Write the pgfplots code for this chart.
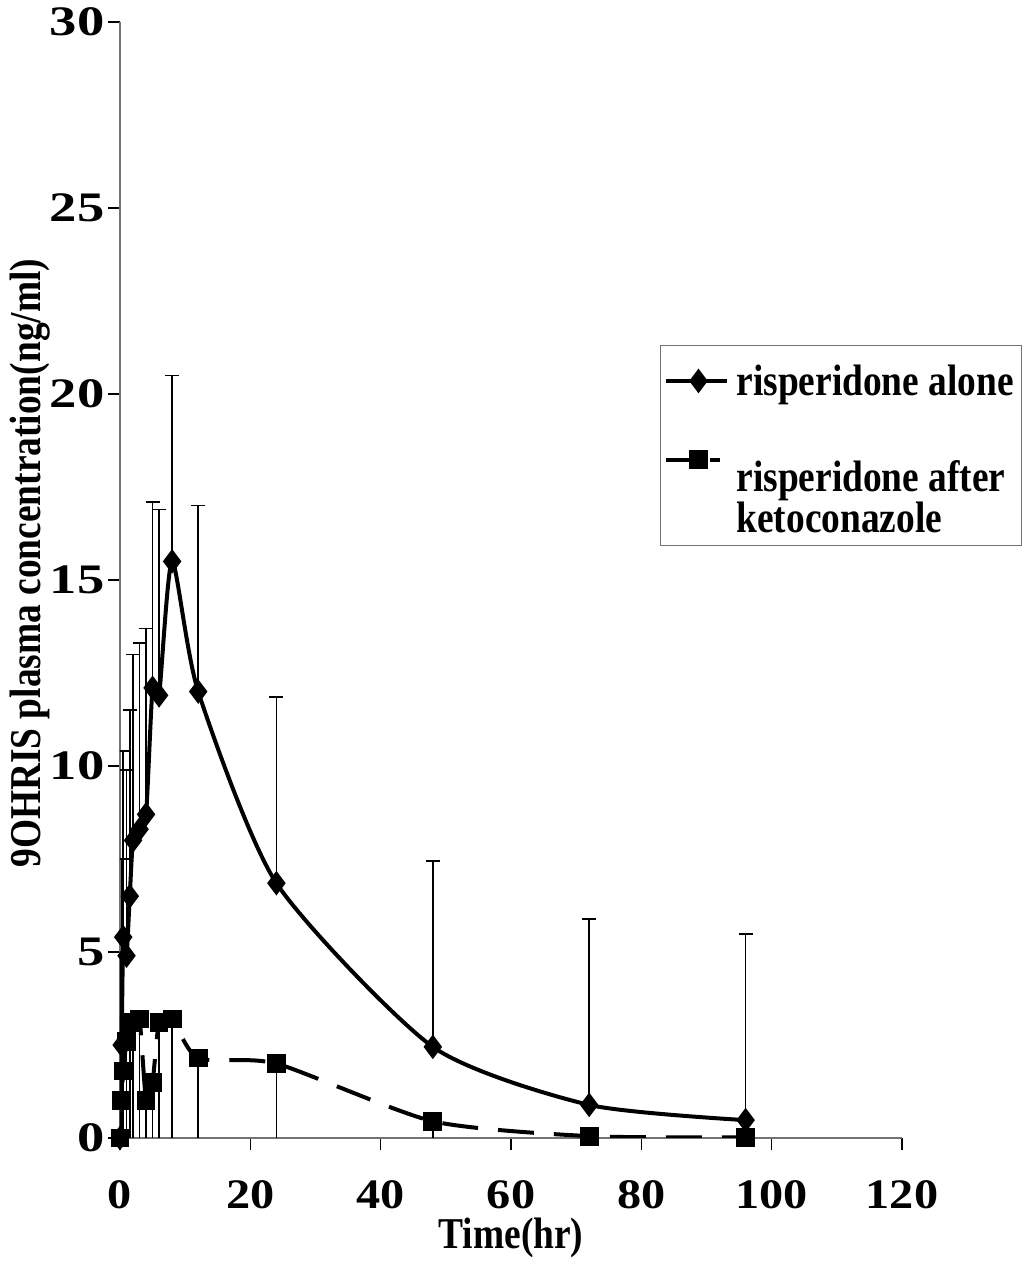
\documentclass[border=0pt]{standalone}
\usepackage{pgfplots}
\pgfplotsset{compat=1.18}
\usepackage{pgfplotstable}
\usepackage{fontspec}
\setmainfont{Liberation Serif}
\newfontfamily\yfont{Liberation Serif}[FakeStretch=1.3]
\newfontfamily\xfont{Liberation Serif}[FakeStretch=1.15]
\newfontfamily\cfont{Liberation Serif}[FakeStretch=0.85]

\pgfplotstableread{
t y
0 0
0.25 2.5
0.5 5.4
1 4.9
1.5 6.5
2 8.0
3 8.3
4 8.7
5 12.1
6 11.9
8 15.5
12 12.0
24 6.85
48 2.45
72 0.89
96 0.48
}\alone

\pgfplotstableread{
t y
0 0
0.25 1.0
0.5 1.8
1 2.6
1.5 3.1
2 3.1
3 3.2
4 1.0
5 1.5
6 3.1
8 3.2
12 2.15
24 2.0
48 0.45
72 0.05
96 0.02
}\keto

\begin{document}
\begin{tikzpicture}
\begin{axis}[
  scale only axis, width=391pt, height=558pt,
  xmin=0, xmax=120, ymin=0, ymax=30,
  xtick={0,20,...,120}, ytick={0,5,...,30},
  axis x line*=bottom, axis y line*=left,
  axis line style={black!55, line width=0.6pt},
  tick align=outside, major tick length=6pt,
  tick style={black, line width=0.6pt},
  /pgf/number format/assume math mode=true,
  ticklabel style={inner sep=0pt},
  xticklabel style={font=\fontsize{21}{24}\xfont\bfseries, yshift=-15pt},
  yticklabel style={font=\fontsize{21}{24}\yfont\bfseries, xshift=-1.5pt},
  label style={font=\fontsize{22}{24}\cfont\bfseries},
  xlabel={Time(hr)},
  ylabel={9OHRIS plasma concentration(ng/ml)},
  xlabel style={at={([yshift=-50pt]axis description cs:0.5,0)}, anchor=center},
  ylabel style={at={([xshift=-45pt]axis description cs:0,0.515)}, anchor=center},
  legend style={at={(0.6905,0.7106)}, anchor=north west, draw=black!55, line width=0.5pt,
    font=\fontsize{22}{18.5}\cfont\bfseries, inner xsep=2pt, inner ysep=3pt,
    row sep=25pt, column sep=2pt, nodes={inner xsep=2pt}},
  legend cell align=left,
]
\addplot+[black, solid, line width=2pt, smooth, tension=0.4,
  mark=diamond*, mark size=4.5pt, mark options={solid, fill=black},
  legend image code/.code={\draw[yshift=-2pt, mark repeat=2, mark phase=2] plot coordinates {(0pt,0pt) (16pt,0pt) (30pt,0pt)};},
  error bars/.cd, y dir=plus, y fixed=5,
  error bar style={line width=0.8pt, black, solid},
  error mark options={rotate=90, mark size=3.5pt, line width=0.8pt, black}]
  table[x=t, y=y] {\alone};
\addlegendentry{\rule{0pt}{20pt}risperidone alone}
\addplot+[black, line width=2pt, smooth, tension=0.4, dash pattern=on 18pt off 10pt,
  mark=square*, mark size=3.7pt, mark options={solid, fill=black},
  legend image code/.code={\draw[yshift=19pt, dash pattern=on 18pt off 4pt on 5pt off 10pt, mark repeat=2, mark phase=2] plot coordinates {(0pt,0pt) (16pt,0pt) (30pt,0pt)};},
  error bars/.cd, y dir=minus, y fixed=5,
  error bar style={line width=0.8pt, black, solid},
  error mark=none]
  table[x=t, y=y] {\keto};
\addlegendentry{\begin{tabular}[b]{@{}l@{}}risperidone after\\ketoconazole\end{tabular}}
\end{axis}
\pgfresetboundingbox
\path[use as bounding box] ([xshift=-60pt,yshift=-70pt]current axis.south west) rectangle ([xshift=64pt,yshift=11pt]current axis.north east);
\end{tikzpicture}
\end{document}
